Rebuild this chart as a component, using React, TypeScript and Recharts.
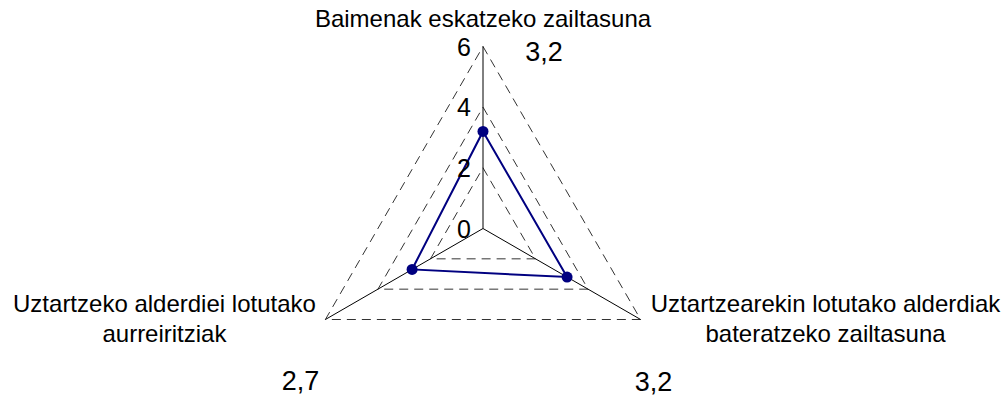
import React from 'react';
import { RadarChart, Radar, PolarGrid, PolarAngleAxis, PolarRadiusAxis } from 'recharts';

const categories = ['Baimenak eskatzeko zailtasuna', 'Uztartzearekin lotutako alderdiak\nbateratzeko zailtasuna', 'Uztartzeko alderdiei lotutako\naurreiritziak'];
const values = [3.2, 3.2, 2.7];
const radiusTicks = [0, 2, 4, 6];

const data = categories.map((name, i) => ({ name, value: values[i] }));

const FONT = '"Liberation Sans", Arial, sans-serif';

// label placement relative to the angle-axis tick point: [name dx, name dy, value dx, value dy]
const labelOffsets = [
  [0, -12, 61, 22],
  [178, -12, 6, 67],
  [-154, -12, -18, 66],
];

const fmt = (v: number) => v.toFixed(1).replace('.', ',');

const AngleTick = (props: any) => {
  const { x, y, payload, index } = props;
  const off = labelOffsets[index] || [0, 0, 0, 0];
  const lines = String(payload.value).split('\n');
  return (
    <g>
      <text x={x + off[0]} y={y + off[1]} textAnchor="middle" fontFamily={FONT} fontSize={24} fill="#000">
        {lines.map((l, i) => (
          <tspan key={i} x={x + off[0]} dy={i === 0 ? 0 : 30}>{l}</tspan>
        ))}
      </text>
      <text x={x + off[2]} y={y + off[3]} textAnchor="middle" fontFamily={FONT} fontSize={27} fill="#000">
        {fmt(values[index])}
      </text>
    </g>
  );
};

const RadiusTick = (props: any) => {
  const { x, y, payload } = props;
  return (
    <text x={x - 12} y={y + 9} textAnchor="end" fontFamily={FONT} fontSize={25} fill="#000">
      {payload.value}
    </text>
  );
};

const Dot = (props: any) => {
  const { cx, cy, index } = props;
  return <circle key={`dot-${index}`} cx={cx} cy={cy} r={5.5} fill="#000080" stroke="none" />;
};

export default function App() {
  return (
    <div style={{ position: 'absolute', left: 0, top: 0, width: 1007, height: 398, background: '#fff' }}>
      <RadarChart width={1007} height={398} data={data} cx={483} cy={228.5} outerRadius={182} margin={{ top: 0, right: 0, bottom: 0, left: 0 }}>
        <PolarGrid gridType="polygon" radialLines={false} stroke="#333" strokeDasharray="9 6" />
        <PolarGrid gridType="polygon" radialLines={true} polarRadius={[]} stroke="#000" />
        <PolarAngleAxis dataKey="name" axisLine={false} tickLine={false} tick={<AngleTick />} />
        <PolarRadiusAxis angle={90} domain={[0, 6]} ticks={radiusTicks as any} tickCount={4} axisLine={false} tickLine={false} tick={<RadiusTick />} />
        <Radar dataKey="value" stroke="#000080" strokeWidth={2} fill="none" fillOpacity={0} dot={Dot} isAnimationActive={false} />
      </RadarChart>
    </div>
  );
}
